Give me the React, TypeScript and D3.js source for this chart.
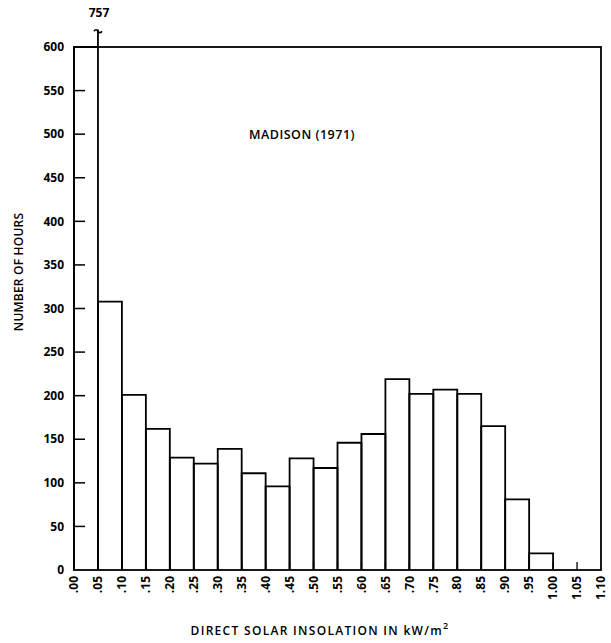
import React from "react";
import * as d3 from "d3";

const binStarts = [0.0, 0.05, 0.1, 0.15, 0.2, 0.25, 0.3, 0.35, 0.4, 0.45, 0.5, 0.55, 0.6, 0.65, 0.7, 0.75, 0.8, 0.85, 0.9, 0.95, 1.0, 1.05];
const hours = [757, 308, 201, 162, 129, 122, 139, 111, 96, 128, 117, 146, 156, 219, 202, 207, 202, 165, 81, 19, 0, 0];
const yTicks = [0, 50, 100, 150, 200, 250, 300, 350, 400, 450, 500, 550, 600];
const xTicks = [0, 0.05, 0.1, 0.15, 0.2, 0.25, 0.3, 0.35, 0.4, 0.45, 0.5, 0.55, 0.6, 0.65, 0.7, 0.75, 0.8, 0.85, 0.9, 0.95, 1.0, 1.05, 1.1];
const xTickLabels = [".00", ".05", ".10", ".15", ".20", ".25", ".30", ".35", ".40", ".45", ".50", ".55", ".60", ".65", ".70", ".75", ".80", ".85", ".90", ".95", "1.00", "1.05", "1.10"];
const binWidth = 0.05;
const yMax = 600;
const title = "MADISON (1971)";
const yTitle = "NUMBER OF HOURS";
const xTitle = "DIRECT SOLAR INSOLATION IN kW/m";

const W = 611;
const H = 643;
const left = 74;
const right = 601;
const top = 47;
const bottom = 570;
const font = "'Open Sans', 'DejaVu Sans', sans-serif";

export default function App() {
  const x = d3.scaleLinear().domain([0, 1.1]).range([left, right]);
  const y = d3.scaleLinear().domain([0, yMax]).range([bottom, top]);
  const sw = 1.8;

  const overflowIdx = hours.findIndex((h) => h > yMax);

  return (
    <svg width={W} height={H} style={{ position: "absolute", left: 0, top: 0, background: "#fff" }} fontFamily={font}>
      <rect x={0} y={0} width={W} height={H} fill="#fff" />
      {/* bars */}
      {binStarts.map((b, i) => {
        const v = Math.min(hours[i], yMax);
        if (v <= 0) return null;
        const x0 = x(b);
        const x1 = x(b + binWidth);
        const yt = y(v);
        const d = `M${x0},${bottom} L${x0},${yt} L${x1},${yt} L${x1},${bottom}`;
        return <path key={i} d={d} fill="none" stroke="#000" strokeWidth={sw} />;
      })}
      {/* overflow marker */}
      {overflowIdx >= 0 && (
        <g>
          <line x1={x(binStarts[overflowIdx] + binWidth)} x2={x(binStarts[overflowIdx] + binWidth)} y1={y(yMax)} y2={y(620)} stroke="#000" strokeWidth={sw} />
          <path
            d={`M${x(binStarts[overflowIdx] + binWidth) - 4},${y(618)} q2,-3 4,0 t4,0`}
            fill="none"
            stroke="#000"
            strokeWidth={1.6}
          />
          <text x={x(binStarts[overflowIdx] + binWidth) + 1} y={y(634)} textAnchor="middle" fontSize={12} fontWeight={700}>
            {hours[overflowIdx]}
          </text>
        </g>
      )}
      {/* frame */}
      <rect x={left} y={top} width={right - left} height={bottom - top} fill="none" stroke="#000" strokeWidth={sw} />
      {/* y ticks */}
      {yTicks.map((t) => (
        <g key={t}>
          {t > 0 && t < yMax && <line x1={left} x2={left + 11} y1={y(t)} y2={y(t)} stroke="#000" strokeWidth={1.5} />}
          <text x={64} y={y(t)} dy="0.35em" textAnchor="end" fontSize={12} fontWeight={700}>
            {t}
          </text>
        </g>
      ))}
      {/* x ticks */}
      {xTicks.map((t, i) => (
        <g key={i}>
          {t > 0 && t < 1.1 && <line x1={x(t)} x2={x(t)} y1={bottom} y2={bottom - 8} stroke="#000" strokeWidth={1.3} />}
          <text
            transform={`translate(${x(t)},576) rotate(-90)`}
            textAnchor="end"
            dy="0.35em"
            fontSize={12}
            fontWeight={700}
          >
            {xTickLabels[i]}
          </text>
        </g>
      ))}
      {/* titles */}
      <text x={302} y={139} textAnchor="middle" fontSize={12.5} fontWeight={600} letterSpacing={0.5}>
        {title}
      </text>
      <text transform={`translate(19,272) rotate(-90)`} textAnchor="middle" dy="0.35em" fontSize={12} fontWeight={600} letterSpacing={0.2}>
        {yTitle}
      </text>
      <text x={320} y={635} textAnchor="middle" fontSize={12} fontWeight={600} letterSpacing={1.3}>
        {xTitle}
        <tspan dy={-6} fontSize={9}>2</tspan>
      </text>
    </svg>
  );
}
